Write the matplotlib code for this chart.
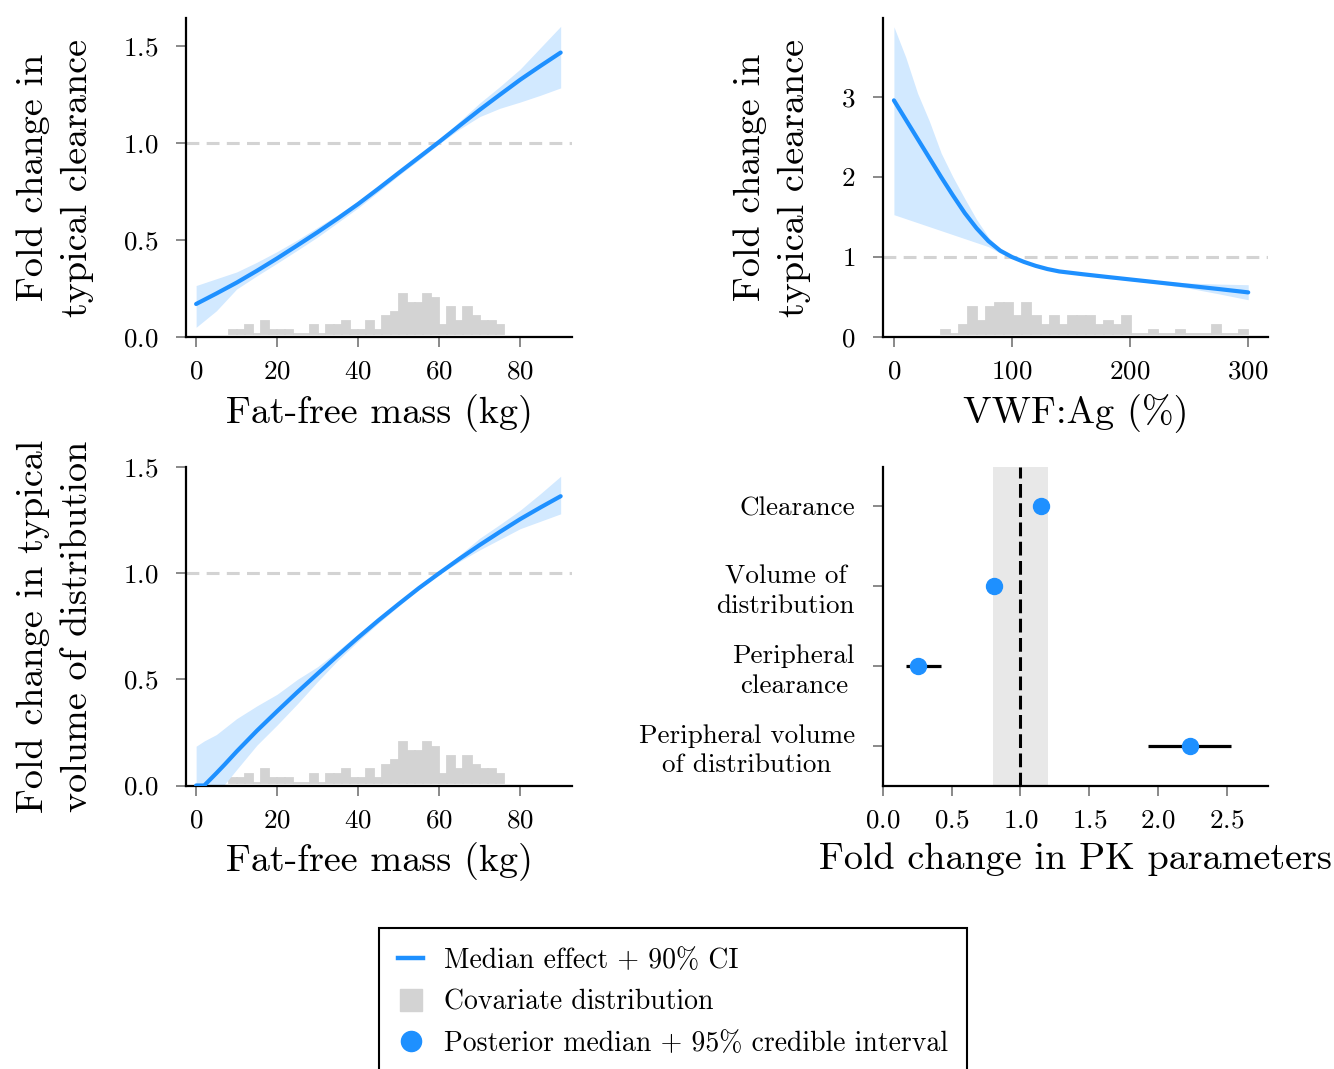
"""
Covariate effects on PK parameters (fat-free mass, VWF:Ag) + forest plot
"""

import numpy as np
import matplotlib
matplotlib.use("Agg")
import matplotlib.pyplot as plt
from matplotlib.lines import Line2D

plt.rcParams["font.family"] = ["cmr10", "DejaVu Serif"]
plt.rcParams["mathtext.fontset"] = "cm"
plt.rcParams["axes.formatter.use_mathtext"] = True

# ---- data ----

# fat-free mass effect on clearance
ffm_x = [0, 5, 10, 15, 20, 25, 30, 35, 40, 45, 50, 55, 60, 65, 70, 75, 80, 85, 90]
cl_med = [0.17, 0.224, 0.28, 0.341, 0.405, 0.472, 0.54, 0.611, 0.685, 0.764,
          0.845, 0.925, 1.005, 1.088, 1.17, 1.248, 1.325, 1.396, 1.465]
cl_hi = [0.265, 0.30, 0.335, 0.385, 0.44, 0.50, 0.565, 0.63, 0.70, 0.775,
         0.855, 0.935, 1.015, 1.11, 1.205, 1.29, 1.38, 1.49, 1.60]
cl_lo = [0.05, 0.135, 0.247, 0.315, 0.38, 0.447, 0.515, 0.59, 0.665, 0.748,
         0.832, 0.912, 0.995, 1.07, 1.135, 1.178, 1.21, 1.245, 1.283]

# fat-free mass effect on volume of distribution
ffm_x2 = [0, 2, 5, 7, 10, 15, 20, 25, 30, 35, 40, 45, 50, 55, 60, 65, 70, 75, 80, 85, 90]
v_med = [0.0, 0.0, 0.058, 0.098, 0.16, 0.258, 0.35, 0.44, 0.527, 0.613, 0.697,
         0.778, 0.855, 0.93, 1.0, 1.068, 1.133, 1.195, 1.255, 1.31, 1.363]
v_hi = [0.185, 0.21, 0.24, 0.27, 0.315, 0.375, 0.43, 0.50, 0.56, 0.635, 0.715,
        0.79, 0.865, 0.935, 1.005, 1.085, 1.165, 1.23, 1.297, 1.375, 1.457]
v_lo = [0.0, 0.0, 0.0, 0.005, 0.075, 0.19, 0.285, 0.385, 0.49, 0.59, 0.68,
        0.765, 0.845, 0.925, 0.995, 1.055, 1.11, 1.16, 1.21, 1.245, 1.28]

# VWF:Ag effect on clearance
vwf_x = [0, 10, 20, 30, 40, 50, 60, 70, 80, 90, 100, 110, 120, 130, 140, 160,
         180, 200, 225, 250, 275, 300]
vwf_med = [2.96, 2.72, 2.48, 2.24, 2.0, 1.77, 1.55, 1.36, 1.20, 1.08, 1.0,
           0.94, 0.89, 0.85, 0.82, 0.785, 0.752, 0.72, 0.68, 0.64, 0.60, 0.558]
vwf_hi = [3.88, 3.5, 3.05, 2.7, 2.3, 2.0, 1.73, 1.47, 1.25, 1.1, 1.01,
          0.95, 0.9, 0.86, 0.83, 0.795, 0.765, 0.735, 0.70, 0.675, 0.662, 0.654]
vwf_lo = [1.53, 1.48, 1.43, 1.38, 1.33, 1.28, 1.23, 1.18, 1.13, 1.05, 0.99,
          0.925, 0.875, 0.838, 0.808, 0.772, 0.74, 0.705, 0.665, 0.61, 0.54, 0.466]

# covariate histograms (counts per bin)
ffm_edges = np.linspace(8, 76, 35)
ffm_counts = [1, 1, 2, 0, 3, 1, 1, 1, 0, 0, 2, 0, 2, 2, 3, 1, 1,
              3, 1, 4, 5, 9, 7, 7, 9, 8, 2, 6, 3, 6, 4, 3, 3, 2]
vwf_edges = np.linspace(40, 300, 35)
vwf_counts = [1, 0, 2, 6, 3, 6, 7, 7, 4, 7, 4, 2, 4, 2, 4, 4, 4,
              2, 3, 2, 4, 0, 0, 1, 0, 0, 1, 0, 0, 0, 2, 0, 0, 1]

# forest plot
params = ["Clearance", "Volume of\ndistribution", "Peripheral\nclearance",
          "Peripheral volume\nof distribution"]
par_med = [1.148, 0.81, 0.259, 2.232]
par_lo = [1.13, 0.795, 0.167, 1.927]
par_hi = [1.165, 0.825, 0.423, 2.531]

# ---- styling ----
BLUE = "#1E90FF"
BAND = "#d2e9ff"
HIST = "#d3d3d3"
TICK_FS = 19.5
LABEL_FS = 27.5

fig = plt.figure(figsize=(13.34, 10.69), dpi=100)

ax1 = fig.add_axes([0.13943, 0.68475, 0.28936, 0.29841])
ax2 = fig.add_axes([0.66214, 0.68475, 0.28861, 0.29841])
ax3 = fig.add_axes([0.13943, 0.26520, 0.28936, 0.29841])
ax4 = fig.add_axes([0.66169, 0.26520, 0.28906, 0.29841])


def style(ax):
    for s in ["top", "right"]:
        ax.spines[s].set_visible(False)
    for s in ["left", "bottom"]:
        ax.spines[s].set_linewidth(1.6)
        ax.spines[s].set_color("black")
    ax.tick_params(direction="out", length=7.5, width=1.3, color="#808080",
                   labelsize=TICK_FS)
    ax.tick_params(axis="x", pad=9)
    ax.tick_params(axis="y", pad=12.5)


def hist_under(ax, edges, counts):
    # histogram on a twin axis so it keeps its own count scale
    axh = ax.twinx()
    axh.bar(edges[:-1], counts, width=np.diff(edges), align="edge",
            color=HIST, edgecolor=HIST, linewidth=1.3)
    axh.set_ylim(-0.65, 70.7)
    axh.axis("off")
    ax.set_zorder(axh.get_zorder() + 1)
    ax.patch.set_visible(False)


def effect_panel(ax, x, med, lo, hi, edges, counts):
    hist_under(ax, edges, counts)
    ax.axhline(1.0, color=HIST, linewidth=2.2, dashes=(4.2, 2.4), zorder=1)
    ax.fill_between(x, lo, hi, color=BAND, linewidth=0, zorder=2)
    ax.plot(x, med, color=BLUE, linewidth=3, solid_capstyle="round",
            solid_joinstyle="round", zorder=3)
    style(ax)


# panel 1
effect_panel(ax1, ffm_x, cl_med, cl_lo, cl_hi, ffm_edges, ffm_counts)
ax1.set_xlim(-2.5, 92.8)
ax1.set_ylim(0, 1.643)
ax1.set_xticks([0, 20, 40, 60, 80])
ax1.set_yticks([0.0, 0.5, 1.0, 1.5])
ax1.set_xlabel("Fat-free mass (kg)", fontsize=LABEL_FS)
ax1.set_ylabel("Fold change in\ntypical clearance", fontsize=LABEL_FS,
               linespacing=1.4)

# panel 2
effect_panel(ax2, vwf_x, vwf_med, vwf_lo, vwf_hi, vwf_edges, vwf_counts)
ax2.set_xlim(-9, 317)
ax2.set_ylim(0, 3.99)
ax2.set_xticks([0, 100, 200, 300])
ax2.set_yticks([0, 1, 2, 3])
ax2.set_xlabel("VWF:Ag (%)", fontsize=LABEL_FS)
ax2.set_ylabel("Fold change in\ntypical clearance", fontsize=LABEL_FS,
               linespacing=1.4)

# panel 3
effect_panel(ax3, ffm_x2, v_med, v_lo, v_hi, ffm_edges, ffm_counts)
ax3.set_xlim(-2.5, 92.8)
ax3.set_ylim(0, 1.503)
ax3.set_xticks([0, 20, 40, 60, 80])
ax3.set_yticks([0.0, 0.5, 1.0, 1.5])
ax3.set_xlabel("Fat-free mass (kg)", fontsize=LABEL_FS)
ax3.set_ylabel("Fold change in typical\nvolume of distribution",
               fontsize=LABEL_FS, linespacing=1.4)

# panel 4 - forest plot
ypos = np.arange(len(params))[::-1]
ax4.axvspan(0.8, 1.2, color="#e8e8e8", linewidth=0, zorder=0)
ax4.axvline(1.0, color="black", linewidth=2.2, dashes=(4.5, 1.8), zorder=1)
ax4.hlines(ypos, par_lo, par_hi, color="black", linewidth=2.3, zorder=2)
ax4.plot(par_med, ypos, "o", color=BLUE, markersize=11.5, zorder=3)
ax4.set_xlim(0, 2.8)
ax4.set_ylim(-0.5, 3.5)
ax4.set_xticks([0.0, 0.5, 1.0, 1.5, 2.0, 2.5])
ax4.set_yticks(ypos)
ax4.set_yticklabels(params, multialignment="center", linespacing=1.3)
ax4.set_xlabel("Fold change in PK parameters", fontsize=LABEL_FS)
style(ax4)

# label placement
for ax in [ax1, ax3]:
    ax.yaxis.set_label_coords(-0.2383, 0.5)
ax2.yaxis.set_label_coords(-0.1878, 0.5)
for ax in [ax1, ax2, ax3, ax4]:
    ax.xaxis.set_label_coords(0.5, -0.178)

# legend
handles = [
    Line2D([], [], color=BLUE, linewidth=3.2),
    Line2D([], [], marker="s", linestyle="none", color=HIST, markersize=16),
    Line2D([], [], marker="o", linestyle="none", color=BLUE, markersize=14.5),
]
labels = ["Median effect + 90% CI", "Covariate distribution",
          "Posterior median + 95% credible interval"]
leg = fig.legend(handles, labels, loc="upper center",
                 bbox_to_anchor=(0.5045, 1 - 928 / 1069), borderaxespad=0,
                 fontsize=20, frameon=True, fancybox=False, framealpha=1,
                 edgecolor="black", handlelength=0.9, handletextpad=0.75,
                 borderpad=0.7, labelspacing=0.55)
leg.get_frame().set_linewidth(1.5)

fig.savefig("out.png", dpi=100)
